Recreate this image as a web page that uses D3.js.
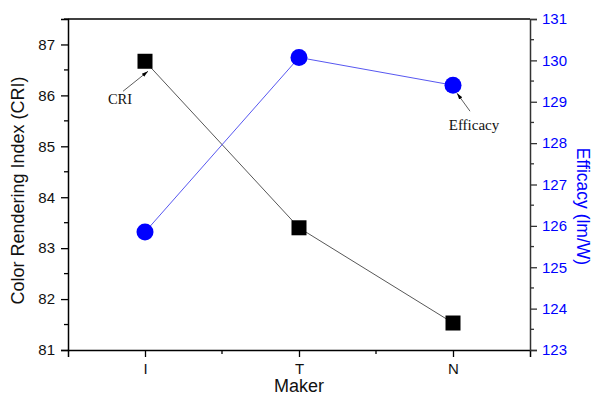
<!DOCTYPE html>
<html>
<head>
<meta charset="utf-8">
<script src="https://cdn.jsdelivr.net/npm/d3@7"></script>
<style>
  body { margin: 0; background: #fff; }
  svg { display: block; font-family: "Liberation Sans", Arial, sans-serif; }
</style>
</head>
<body>
<div id="chart"></div>
<script>
// CRI and efficacy per lamp maker
const MAKERS = ["I", "T", "N"];
const CRI = [86.67, 83.4, 81.53];
const EFFICACY = [125.85, 130.07, 129.4];
const CRI_TICKS = [81, 82, 83, 84, 85, 86, 87];
const EFF_TICKS = [123, 124, 125, 126, 127, 128, 129, 130, 131];

const totalW = 594, totalH = 396;
const margin = { top: 19, right: 64, bottom: 46, left: 68 };
const W = totalW - margin.left - margin.right;
const H = totalH - margin.top - margin.bottom;
const BLUE = "#0000ff";

const svg = d3.select("#chart").append("svg")
  .attr("width", totalW).attr("height", totalH);
const g = svg.append("g").attr("transform", `translate(${margin.left},${margin.top})`);

/* scales */
// x is numeric like Origin: categories at 1,2,3, range 0.5..3.5
const x = d3.scaleLinear().domain([0.5, 3.5]).range([0, W]);
const yL = d3.scaleLinear().domain([81, 87.5]).range([H, 0]);
const yR = d3.scaleLinear().domain([123, 131]).range([H, 0]);

/* frame top */
g.append("line").attr("x1", 0).attr("x2", W).attr("y1", 0).attr("y2", 0)
  .attr("stroke", "#000").attr("stroke-width", 1.5);

/* bottom axis */
const xAx = g.append("g").attr("transform", `translate(0,${H})`)
  .call(d3.axisBottom(x).tickValues([1, 2, 3]).tickSize(7).tickPadding(6)
    .tickFormat((d, i) => MAKERS[i]));
xAx.select(".domain").attr("stroke", "#000").attr("stroke-width", 1.5);
xAx.selectAll("line").attr("stroke", "#000").attr("stroke-width", 1.3);
xAx.selectAll("text").attr("font-size", 15).attr("fill", "#111");
xAx.selectAll(".minor").data([1.5, 2.5]).join("line").attr("class", "minor")
  .attr("x1", d => x(d)).attr("x2", d => x(d)).attr("y1", 0).attr("y2", 4)
  .attr("stroke", "#000").attr("stroke-width", 1.3);

/* left axis */
const lAx = g.append("g")
  .call(d3.axisLeft(yL).tickValues(CRI_TICKS).tickSize(7).tickPadding(6).tickFormat(d3.format("d")));
lAx.select(".domain").attr("stroke", "#000").attr("stroke-width", 1.5);
lAx.selectAll("line").attr("stroke", "#000").attr("stroke-width", 1.3);
lAx.selectAll("text").attr("font-size", 15).attr("fill", "#111");
lAx.selectAll(".minor").data(d3.range(81.5, 87.6, 1)).join("line").attr("class", "minor")
  .attr("y1", d => yL(d)).attr("y2", d => yL(d)).attr("x1", 0).attr("x2", -4)
  .attr("stroke", "#000").attr("stroke-width", 1.3);

/* right axis */
const rAx = g.append("g").attr("transform", `translate(${W},0)`)
  .call(d3.axisRight(yR).tickValues(EFF_TICKS).tickSize(7).tickPadding(5).tickFormat(d3.format("d")));
rAx.select(".domain").attr("stroke", "#333").attr("stroke-width", 1.5);
rAx.selectAll("line").attr("stroke", "#333").attr("stroke-width", 1.3);
rAx.selectAll("text").attr("font-size", 15).attr("fill", BLUE);
rAx.selectAll(".minor").data(d3.range(123.5, 131, 1)).join("line").attr("class", "minor")
  .attr("y1", d => yR(d)).attr("y2", d => yR(d)).attr("x1", 0).attr("x2", 4)
  .attr("stroke", "#333").attr("stroke-width", 1.3);

/* axis titles */
g.append("text").attr("x", W / 2).attr("y", H + 42)
  .attr("text-anchor", "middle").attr("font-size", 18).attr("fill", "#111")
  .text("Maker");
g.append("text").attr("transform", "rotate(-90)")
  .attr("x", -(H / 2 + 6)).attr("y", -margin.left + 18).attr("dy", "0.35em")
  .attr("text-anchor", "middle").attr("font-size", 18).attr("fill", "#111")
  .text("Color Rendering Index (CRI)");
g.append("text")
  .attr("transform", `translate(${W + 53},${H / 2 + 22}) rotate(90)`)
  .attr("dy", "0.35em")
  .attr("text-anchor", "middle").attr("font-size", 17.5).attr("fill", BLUE)
  .text("Efficacy (lm/W)");

/* lines */
const xs = MAKERS.map((m, i) => x(i + 1));
g.append("path")
  .attr("d", d3.line()(CRI.map((v, i) => [xs[i], yL(v)])))
  .attr("fill", "none").attr("stroke", "#444").attr("stroke-width", 0.9);
g.append("path")
  .attr("d", d3.line()(EFFICACY.map((v, i) => [xs[i], yR(v)])))
  .attr("fill", "none").attr("stroke", "#4444ee").attr("stroke-width", 0.9);

/* markers */
g.selectAll(".sq").data(CRI).join("rect").attr("class", "sq")
  .attr("x", (d, i) => xs[i] - 7.5).attr("y", d => yL(d) - 7.5)
  .attr("width", 15).attr("height", 15).attr("fill", "#000");
g.selectAll(".ci").data(EFFICACY).join("circle").attr("class", "ci")
  .attr("cx", (d, i) => xs[i]).attr("cy", d => yR(d))
  .attr("r", 8.5).attr("fill", BLUE);

/* annotations */
svg.append("defs").append("marker").attr("id", "arr")
  .attr("viewBox", "0 0 10 10").attr("refX", 10).attr("refY", 5)
  .attr("markerWidth", 8).attr("markerHeight", 8).attr("orient", "auto")
  .append("path").attr("d", "M0,2 L10,5 L0,8 Z").attr("fill", "#000");

const criX = xs[0], criY = yL(CRI[0]);
g.append("line")
  .attr("x1", criX - 22).attr("y1", criY + 30).attr("x2", criX + 3).attr("y2", criY + 10)
  .attr("stroke", "#333").attr("stroke-width", 0.8).attr("marker-end", "url(#arr)");
g.append("text").attr("x", criX - 25).attr("y", criY + 43)
  .attr("text-anchor", "middle").attr("font-family", "Liberation Serif, Times New Roman, serif")
  .attr("font-size", 14.5).attr("fill", "#111").text("CRI");

const efX = xs[2], efY = yR(EFFICACY[2]);
g.append("line")
  .attr("x1", efX + 17).attr("y1", efY + 26).attr("x2", efX + 4).attr("y2", efY + 8)
  .attr("stroke", "#333").attr("stroke-width", 0.8).attr("marker-end", "url(#arr)");
g.append("text").attr("x", efX + 21).attr("y", efY + 45)
  .attr("text-anchor", "middle").attr("font-family", "Liberation Serif, Times New Roman, serif")
  .attr("font-size", 15).attr("fill", "#111").text("Efficacy");
</script>
</body>
</html>
